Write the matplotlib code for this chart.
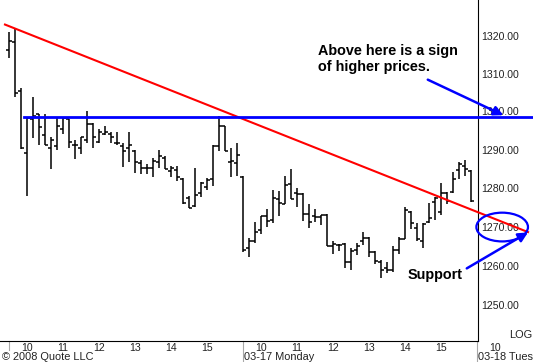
import matplotlib
matplotlib.use('Agg')
import matplotlib.pyplot as plt
import numpy as np
from matplotlib.patches import Ellipse
from matplotlib.ticker import FixedLocator, FormatStrFormatter, NullLocator, NullFormatter

plt.rcParams['font.family'] = ['Liberation Sans', 'DejaVu Sans']

# 10-minute bars, 03-14 (39 bars) then 03-17 Monday (39 bars)
opens = [1316.2, 1318.4, 1305.5, 1289.2, 1297.9, 1299.2, 1293.7, 1290.3, 1290.8, 1295.5,
         1297.9, 1291.3, 1290.3, 1292.6, 1296.8, 1292.1, 1294.2, 1294.2, 1291.8, 1290.8,
         1290.3, 1289.7, 1286.6, 1285.3, 1285.3, 1286.8, 1287.9, 1284.5, 1284.7, 1282.4,
         1277.4, 1275.4, 1278.7, 1280.3, 1282.4, 1290.8, 1296.1, 1286.8, 1286.6,
         1282.8, 1264.4, 1266.2, 1269.2, 1272.8, 1271.8, 1277.2, 1275.9, 1281.1, 1278.7,
         1278.5, 1273.3, 1272.8, 1272.6, 1273.1, 1264.9, 1265.4, 1265.6, 1261.0, 1264.1,
         1266.2, 1267.2, 1263.6, 1261.0, 1259.5, 1258.8, 1264.1, 1266.7, 1273.8, 1269.7,
         1266.4, 1271.3, 1276.4, 1273.8, 1278.7, 1279.0, 1284.7, 1285.8, 1284.5]
highs = [1321.1, 1321.9, 1306.1, 1298.4, 1303.9, 1299.4, 1299.2, 1293.2, 1298.4, 1298.2,
         1298.0, 1292.6, 1293.4, 1300.0, 1297.0, 1295.5, 1296.1, 1294.5, 1294.5, 1291.8,
         1294.7, 1289.9, 1287.4, 1286.3, 1287.9, 1290.0, 1288.2, 1285.8, 1285.8, 1282.6,
         1277.9, 1285.3, 1281.6, 1282.6, 1291.1, 1298.9, 1296.3, 1290.5, 1291.8,
         1283.1, 1267.2, 1271.3, 1272.8, 1274.6, 1279.5, 1279.2, 1283.2, 1285.0, 1280.0,
         1278.7, 1275.9, 1274.6, 1273.1, 1273.3, 1266.2, 1265.6, 1265.8, 1264.4, 1265.9,
         1268.5, 1267.4, 1263.8, 1261.5, 1261.0, 1264.9, 1267.4, 1275.1, 1274.1, 1271.0,
         1271.0, 1276.2, 1277.7, 1281.3, 1279.0, 1284.2, 1286.8, 1287.4, 1284.7]
lows = [1314.1, 1303.9, 1290.2, 1278.0, 1292.9, 1291.1, 1291.3, 1285.0, 1290.0, 1294.2,
        1290.5, 1287.6, 1288.9, 1291.6, 1290.5, 1291.8, 1293.9, 1291.6, 1291.1, 1285.5,
        1286.8, 1283.9, 1283.7, 1283.7, 1282.9, 1285.3, 1285.0, 1282.9, 1281.8, 1275.9,
        1274.9, 1275.1, 1277.7, 1279.5, 1280.5, 1289.7, 1289.5, 1282.9, 1283.2,
        1263.6, 1262.3, 1265.9, 1268.2, 1270.0, 1271.0, 1272.8, 1275.9, 1277.2, 1275.1,
        1271.5, 1269.7, 1271.3, 1270.3, 1264.9, 1263.1, 1263.8, 1259.5, 1259.0, 1262.6,
        1265.4, 1262.1, 1260.5, 1256.8, 1258.0, 1258.3, 1263.1, 1266.7, 1269.5, 1266.4,
        1264.6, 1271.0, 1271.8, 1273.1, 1275.9, 1278.7, 1282.4, 1283.2, 1276.4]
closes = [1318.6, 1305.0, 1290.3, 1298.2, 1298.7, 1295.8, 1291.3, 1292.6, 1296.1, 1298.2,
          1292.1, 1291.1, 1293.2, 1296.8, 1293.2, 1294.5, 1294.5, 1293.2, 1291.6, 1289.5,
          1291.3, 1286.8, 1285.3, 1285.3, 1287.1, 1288.4, 1285.0, 1285.3, 1282.9, 1276.2,
          1274.9, 1278.2, 1281.3, 1282.1, 1290.8, 1296.1, 1289.7, 1287.1, 1288.7,
          1264.1, 1266.2, 1268.7, 1272.8, 1271.5, 1277.4, 1276.2, 1280.8, 1277.2, 1278.5,
          1273.3, 1271.3, 1272.6, 1273.1, 1264.9, 1265.6, 1265.4, 1261.0, 1263.8, 1264.9,
          1267.2, 1263.6, 1261.3, 1258.8, 1258.8, 1264.1, 1266.9, 1274.4, 1271.0, 1266.7,
          1270.8, 1272.3, 1277.4, 1278.7, 1276.7, 1282.4, 1286.3, 1285.0, 1276.7]

price_ticks = [1250, 1260, 1270, 1280, 1290, 1300, 1310, 1320]
hour_pos = [3, 9, 15, 21, 27, 33, 42, 48, 54, 60, 66, 72, 81]
hour_labels = ['10', '11', '12', '13', '14', '15', '10', '11', '12', '13', '14', '15', '10']
day_pos = [0, 39, 78]
day_labels = ['', '03-17 Monday', '03-18 Tues']

# trendline (red) and resistance (blue)
trend_x = [-0.67, 86.5]
trend_y = [1323.1, 1268.6]
resist_x = [2.5, 87.5]
resist_y = [1298.5, 1298.5]

x = np.arange(len(opens))

fig = plt.figure(figsize=(5.33, 3.62), dpi=100, facecolor='white')
ax = fig.add_axes([0, 21 / 362, 478 / 533, 341 / 362])
ax.set_facecolor('white')

# OHLC bars
ax.vlines(x, lows, highs, color='black', linewidth=1.1)
ax.hlines(opens, x - 0.45, x, color='black', linewidth=1.1)
ax.hlines(closes, x, x + 0.45, color='black', linewidth=1.1)

ax.plot(trend_x, trend_y, color='#ff0000', linewidth=1.5, clip_on=False, zorder=4)
ax.plot(resist_x, resist_y, color='#0000ff', linewidth=2.0, clip_on=False, zorder=4)

ax.set_yscale('log')
ax.set_ylim(1240.9, 1329.7)
ax.set_xlim(-1.5, 78.17)

ax.yaxis.tick_right()
ax.yaxis.set_major_locator(FixedLocator(price_ticks))
ax.yaxis.set_major_formatter(FormatStrFormatter('%.2f'))
ax.yaxis.set_minor_locator(NullLocator())
ax.yaxis.set_minor_formatter(NullFormatter())
ax.tick_params(axis='y', length=0, pad=2.2, labelsize=7.6, labelcolor='#222222')
ax.set_xticks([])

for side in ['left', 'top']:
    ax.spines[side].set_visible(False)
for side in ['right', 'bottom']:
    ax.spines[side].set_color('black')
    ax.spines[side].set_linewidth(0.8)

xt = ax.get_xaxis_transform()
for pos, lab in zip(hour_pos, hour_labels):
    ax.text(pos, -0.02, lab, transform=xt, ha='center', va='center',
            fontsize=7.6, color='#222222', clip_on=False)

# day separators
for pos, lab in zip(day_pos, day_labels):
    bottom = -0.027 if lab == '' else -0.062
    ax.plot([pos, pos], [0, bottom], transform=xt, color='#a8a8a8',
            linewidth=0.8, clip_on=False)
    if lab:
        ax.text(pos + 0.2, -0.047, lab, transform=xt, ha='left', va='center',
                fontsize=7.9, color='#222222', clip_on=False)

fig.text(2 / 533, 1 - 356.5 / 362, '\u00a9 2008 Quote LLC', ha='left', va='center',
         fontsize=7.9, color='#222222')
fig.text(532 / 533, 1 - 335.5 / 362, 'LOG', ha='right', va='center',
         fontsize=7.9, color='#222222')

# annotations
fig.text(318 / 533, 1 - 50.5 / 362, 'Above here is a sign', ha='left', va='center',
         fontsize=10.4, fontweight='bold', color='black')
fig.text(318 / 533, 1 - 66.5 / 362, 'of higher prices.', ha='left', va='center',
         fontsize=10.4, fontweight='bold', color='black')
fig.text(408 / 533, 1 - 275.5 / 362, 'Support', ha='left', va='center',
         fontsize=10.4, fontweight='bold', color='black')

ax.annotate('', xy=(82.4, 1299.0), xytext=(69.8, 1308.4),
            arrowprops=dict(arrowstyle='-|>', color='#0000ff', lw=1.8,
                            mutation_scale=14, shrinkA=0, shrinkB=0),
            annotation_clip=False, zorder=5)
ax.annotate('', xy=(86.5, 1268.5), xytext=(76.3, 1259.3),
            arrowprops=dict(arrowstyle='-|>', color='#0000ff', lw=1.8,
                            mutation_scale=14, shrinkA=0, shrinkB=0),
            annotation_clip=False, zorder=5)

ell = Ellipse((82.2, 1269.9), width=8.6, height=7.4, fill=False,
              edgecolor='#0000ff', linewidth=1.6, clip_on=False, zorder=5)
ax.add_patch(ell)

plt.savefig('out.png', dpi=100, facecolor='white')
